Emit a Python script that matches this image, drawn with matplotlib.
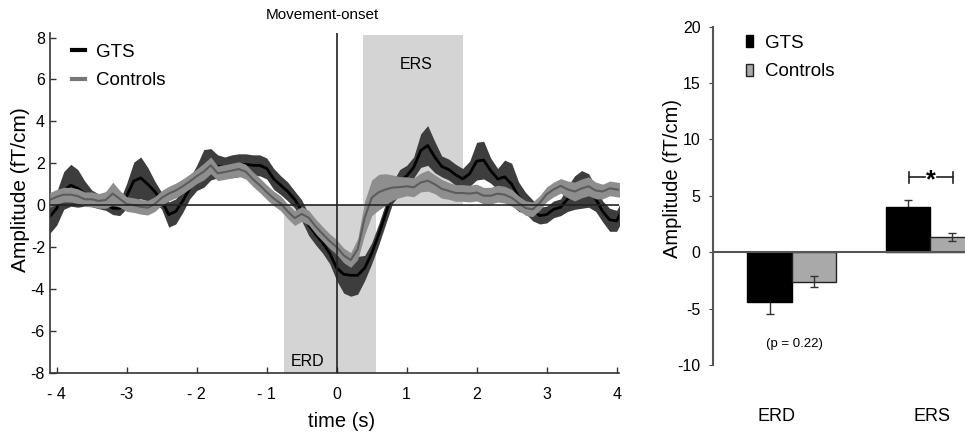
import matplotlib
matplotlib.use("Agg")
import matplotlib.pyplot as plt
from matplotlib.patches import Patch
from matplotlib.lines import Line2D
import numpy as np

plt.rcParams['font.family'] = ['Liberation Sans', 'DejaVu Sans']
plt.rcParams['axes.unicode_minus'] = False

# time course, sampled every 0.1 s from -4.1 to 4.1 s
time = np.round(np.linspace(-4.1, 4.1, 83), 1)

gts_mean = [-0.55, -0.15, 0.7, 0.95, 0.8, 0.55, 0.32, 0.18, 0.05, -0.15,
            -0.15, 0.45, 1.15, 1.3, 1.0, 0.65, 0.2, -0.45, -0.3, 0.2,
            0.8, 1.3, 1.75, 1.95, 1.85, 1.8, 1.85, 1.9, 1.95, 1.9,
            1.9, 1.75, 1.25, 0.95, 0.65, 0.27, -0.25, -0.95, -1.4, -1.8,
            -2.3, -3.0, -3.3, -3.35, -3.35, -3.0, -2.3, -1.4, -0.4, 0.6,
            1.1, 1.4, 1.8, 2.6, 2.85, 2.3, 1.85, 1.7, 1.45, 1.25,
            1.5, 2.1, 2.15, 1.65, 1.25, 1.35, 1.0, 0.4, 0.1, -0.25,
            -0.5, -0.45, -0.2, -0.1, 0.3, 0.6, 0.75, 0.7, 0.3, -0.3,
            -0.7, -0.75, -0.1]
gts_sem = [0.8, 0.8, 0.9, 1.0, 0.9, 0.6, 0.4, 0.35, 0.3, 0.3,
           0.35, 0.6, 0.9, 1.0, 0.8, 0.5, 0.4, 0.6, 0.6, 0.55,
           0.5, 0.6, 0.9, 0.75, 0.55, 0.5, 0.55, 0.55, 0.5, 0.5,
           0.5, 0.5, 0.5, 0.45, 0.45, 0.4, 0.5, 0.5, 0.5, 0.5,
           0.5, 0.6, 0.9, 1.0, 0.9, 0.6, 0.5, 0.5, 0.5, 0.5,
           0.6, 0.5, 0.5, 0.8, 0.95, 0.75, 0.5, 0.5, 0.5, 0.5,
           0.6, 0.9, 0.9, 0.6, 0.5, 0.8, 1.0, 0.7, 0.5, 0.5,
           0.4, 0.4, 0.4, 0.4, 0.6, 0.8, 0.9, 0.8, 0.6, 0.5,
           0.55, 0.5, 0.5]

ctrl_mean = [0.25, 0.4, 0.5, 0.5, 0.43, 0.28, 0.28, 0.2, 0.25, 0.55,
             0.3, 0.05, 0.0, -0.08, -0.12, 0.05, 0.35, 0.55, 0.7, 0.9,
             1.13, 1.38, 1.6, 1.9, 1.52, 1.58, 1.65, 1.72, 1.6, 1.25,
             0.95, 0.62, 0.32, 0.08, -0.3, -0.62, -0.42, -0.6, -1.02, -1.38,
             -1.72, -2.0, -2.4, -2.62, -2.1, -0.6, 0.35, 0.62, 0.75, 0.84,
             0.86, 0.9, 0.85, 1.08, 1.17, 1.0, 0.78, 0.68, 0.58, 0.58,
             0.55, 0.6, 0.45, 0.45, 0.55, 0.5, 0.35, 0.1, -0.14, -0.2,
             0.1, 0.52, 0.75, 0.92, 0.75, 0.65, 0.8, 0.9, 0.7, 0.65,
             0.8, 0.75, 0.7]
ctrl_sem = [0.35, 0.35, 0.35, 0.35, 0.35, 0.35, 0.35, 0.35, 0.4, 0.55,
            0.4, 0.35, 0.35, 0.35, 0.35, 0.35, 0.35, 0.35, 0.35, 0.35,
            0.35, 0.35, 0.4, 0.4, 0.35, 0.35, 0.35, 0.35, 0.35, 0.35,
            0.35, 0.35, 0.35, 0.35, 0.35, 0.35, 0.35, 0.35, 0.35, 0.35,
            0.35, 0.35, 0.35, 0.35, 0.5, 0.8, 0.85, 0.85, 0.75, 0.6,
            0.5, 0.45, 0.45, 0.45, 0.5, 0.45, 0.45, 0.4, 0.4, 0.4,
            0.4, 0.4, 0.4, 0.4, 0.4, 0.4, 0.4, 0.35, 0.35, 0.35,
            0.35, 0.35, 0.35, 0.35, 0.4, 0.45, 0.45, 0.45, 0.4, 0.35,
            0.35, 0.35, 0.35]

# analysis windows (s)
erd_window = (-0.75, 0.56)
ers_window = (0.37, 1.81)

# bar chart
bar_groups = ["ERD", "ERS"]
bar_gts = [-4.37, 4.0]
bar_gts_err = [1.1, 0.65]
bar_ctrl = [-2.6, 1.33]
bar_ctrl_err = [0.52, 0.37]

xtick_vals = [-4, -3, -2, -1, 0, 1, 2, 3, 4]
xtick_text = ["- 4", "-3", "- 2", "- 1", "0", "1", "2", "3", "4"]

GTS_BAND = "#3d3d3d"
CTRL_BAND = "#8e8e8e"
CTRL_LINE = "#5c5c5c"
WINDOW = "#d4d4d4"

fig = plt.figure(figsize=(9.65, 4.32), dpi=100)

# ---------------- time course ----------------
ax = fig.add_axes([0.0523, 0.1373, 0.5896, 0.7854])
t = np.array(time)
gm = np.array(gts_mean)
gs = np.array(gts_sem)
cm = np.array(ctrl_mean)
cs = np.array(ctrl_sem)

ax.fill_between(erd_window, -8, 0, color=WINDOW, lw=0, zorder=0)
ax.fill_between(ers_window, 0, 8.1, color=WINDOW, lw=0, zorder=0)

ax.fill_between(t, gm - gs, gm + gs, color=GTS_BAND, lw=0, zorder=1)
ax.plot(t, gm, color="black", lw=2, zorder=2)
ax.fill_between(t, cm - cs, cm + cs, color=CTRL_BAND, lw=0, zorder=3)
ax.plot(t, cm, color=CTRL_LINE, lw=1.5, zorder=4)

ax.axhline(0, color="#222222", lw=1.2, zorder=5)
ax.axvline(0, color="#222222", lw=1.2, zorder=5)

ax.set_xlim(-4.09, 4.04)
ax.set_ylim(-8, 8.2)
ax.set_xticks(xtick_vals)
ax.set_xticklabels(xtick_text)
ax.set_yticks([-8, -6, -4, -2, 0, 2, 4, 6, 8])
ax.tick_params(axis="both", direction="in", length=4, width=1, labelsize=11.5, color="#333333")
ax.tick_params(axis="x", pad=10)
ax.tick_params(axis="y", pad=4)
for s in ["top", "right"]:
    ax.spines[s].set_visible(False)
for s in ["left", "bottom"]:
    ax.spines[s].set_color("#333333")
    ax.spines[s].set_linewidth(1.2)

ax.set_xlabel("time (s)", fontsize=14.5)
ax.xaxis.set_label_coords(0.512, -0.115)
ax.set_ylabel("Amplitude (fT/cm)", fontsize=15)
ax.yaxis.set_label_coords(-0.036, 0.54)

ax.text(1.13, 6.7, "ERS", fontsize=11.5, ha="center", va="center")
ax.text(-0.42, -7.45, "ERD", fontsize=11.5, ha="center", va="center")
fig.text(322 / 965, 1 - 15 / 432, "Movement-onset", fontsize=11, ha="center", va="center")

handles = [Line2D([], [], color="black", lw=3),
           Line2D([], [], color="#777777", lw=3)]
ax.legend(handles, ["GTS", "Controls"], loc="upper left", bbox_to_anchor=(0.038, 0.97),
          frameon=False, fontsize=13.5, handlelength=0.7, handletextpad=0.55,
          labelspacing=0.62, borderpad=0, borderaxespad=0)

# ---------------- bar chart ----------------
bx = fig.add_axes([0.7389, 0.1551, 0.2715, 0.7831])
x = np.arange(len(bar_groups))
w = 0.32
bx.bar(x - w / 2, bar_gts, w, color="black", edgecolor="black", lw=1, zorder=2)
bx.bar(x + w / 2, bar_ctrl, w, color="#a9a9a9", edgecolor="#222222", lw=1, zorder=2)
bx.errorbar(x - w / 2, bar_gts, yerr=bar_gts_err, fmt="none", ecolor="#333333",
            elinewidth=1, capsize=3, capthick=1, zorder=1)
bx.errorbar(x + w / 2, bar_ctrl, yerr=bar_ctrl_err, fmt="none", ecolor="#333333",
            elinewidth=1, capsize=3, capthick=1, zorder=3)
bx.axhline(0, color="#555555", lw=1.5, zorder=4)

bx.set_xlim(-0.569, 1.325)
bx.set_ylim(-10, 20)
bx.set_yticks([-10, -5, 0, 5, 10, 15, 20])
bx.set_xticks([])
bx.tick_params(axis="y", direction="out", length=3, labelsize=11.5, pad=6, color="#444444")
for s in ["top", "right", "bottom"]:
    bx.spines[s].set_visible(False)
bx.spines["left"].set_color("#555555")
bx.spines["left"].set_linewidth(1.5)
bx.set_ylabel("Amplitude (fT/cm)", fontsize=14.5)
bx.yaxis.set_label_coords(-0.118, 0.55)

# significance bracket over ERS
sig_y = 6.65
bx.plot([0.848, 0.965], [sig_y, sig_y], color="#222222", lw=1.2)
bx.plot([1.05, 1.166], [sig_y, sig_y], color="#222222", lw=1.2)
bx.plot([0.848, 0.848], [sig_y - 0.5, sig_y + 0.5], color="#222222", lw=1.2)
bx.plot([1.166, 1.166], [sig_y - 0.5, sig_y + 0.5], color="#222222", lw=1.2)
bx.text(1.007, sig_y - 0.3, "*", fontsize=18, fontweight="bold", ha="center", va="center")

bx.text(0.02, -8.1, "(p = 0.22)", fontsize=9.5, ha="center", va="center")

fig.text(776.7 / 965, 1 - 416.7 / 432, bar_groups[0], fontsize=13, ha="center", va="center")
fig.text(931.7 / 965, 1 - 416.7 / 432, bar_groups[1], fontsize=13, ha="center", va="center")

bar_handles = [Patch(facecolor="black", edgecolor="black"),
               Patch(facecolor="#a9a9a9", edgecolor="#222222")]
bx.legend(bar_handles, ["GTS", "Controls"], loc="upper left", bbox_to_anchor=(0.125, 0.976),
          frameon=False, fontsize=13.5, handlelength=0.4, handleheight=0.6,
          handletextpad=0.6, labelspacing=0.62, borderpad=0, borderaxespad=0)

fig.savefig("out.png", dpi=100)
